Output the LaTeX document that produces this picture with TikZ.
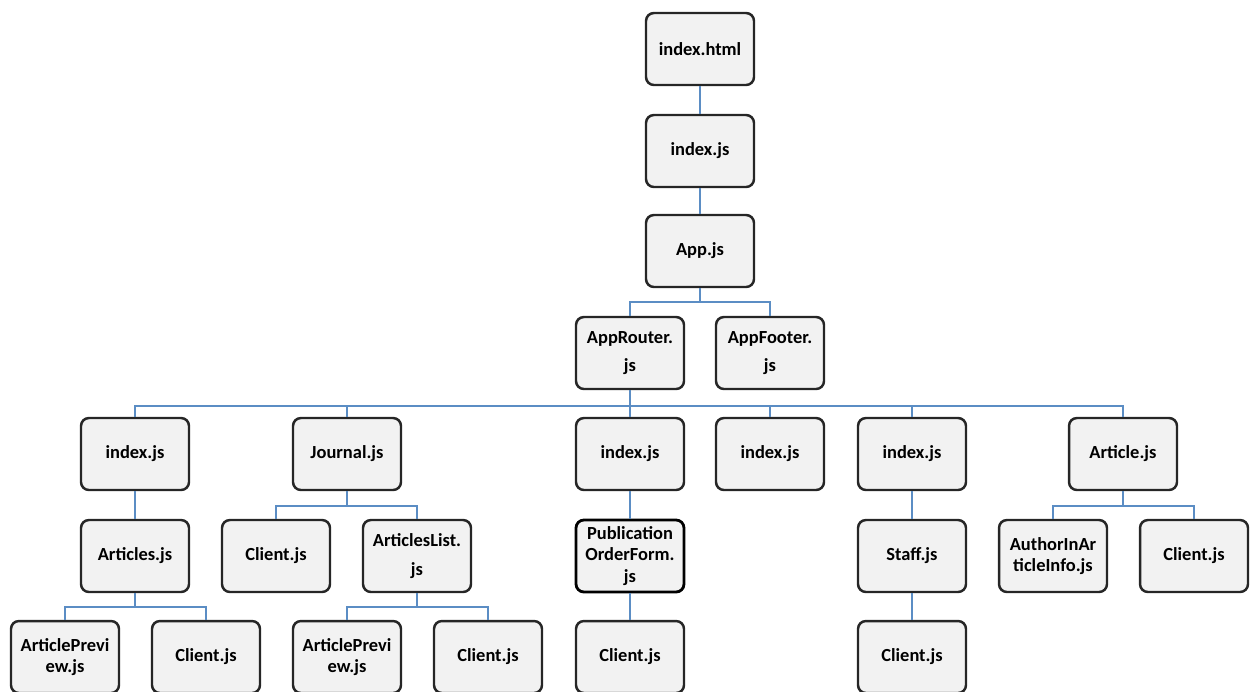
\documentclass[tikz,border=0pt]{standalone}
\usepackage{fontspec}
\setmainfont{Carlito}
\usetikzlibrary{positioning}
\usepackage{xcolor}
\definecolor{boxfill}{HTML}{F2F2F2}
\definecolor{boxline}{HTML}{262626}
\definecolor{linkblue}{HTML}{5B8DC4}

\begin{document}
\begin{tikzpicture}[x=0.02cm, y=-0.02cm,
    font=\fontsize{10.5}{12.3}\selectfont\bfseries,
    file/.style={draw=boxline, fill=boxfill, line width=1.4pt, rounded corners=4.5pt,
                 minimum width=2.16cm, minimum height=1.44cm, align=center, inner sep=2pt},
    wide/.style={font=\fontsize{10.5}{16.3}\selectfont\bfseries},
    link/.style={draw=linkblue, line width=1.4pt}]
    \clip (0,0) rectangle (1258,691);

    % main chain
    \node[file] (html) at (700,49) {index.html};
    \node[file] (idx) at (700,151) {index.js};
    \node[file] (app) at (700,251) {App.js};
    \node[file, wide] (router) at (630,353) {AppRouter.\\js};
    \node[file, wide] (footer) at (770,353) {AppFooter.\\js};

    % pages
    \node[file] (idxA) at (135,454) {index.js};
    \node[file] (journal) at (347,454) {Journal.js};
    \node[file] (idxB) at (630,454) {index.js};
    \node[file] (idxC) at (770,454) {index.js};
    \node[file] (idxD) at (912,454) {index.js};
    \node[file] (article) at (1123,454) {Article.js};

    % components
    \node[file] (articles) at (135,556) {Articles.js};
    \node[file] (clientJ) at (276,556) {Client.js};
    \node[file, wide] (alist) at (417,556) {ArticlesList.\\js};
    \node[file, draw=black, line width=1.6pt] (pubform) at (630,556) {Publication\\OrderForm.\\js};
    \node[file] (staff) at (912,556) {Staff.js};
    \node[file] (author) at (1053,556) {AuthorInAr\\ticleInfo.js};
    \node[file] (clientA) at (1194,556) {Client.js};

    \node[file] (previewA) at (65,657) {ArticlePrevi\\ew.js};
    \node[file] (clientR) at (206,657) {Client.js};
    \node[file] (previewL) at (347,657) {ArticlePrevi\\ew.js};
    \node[file] (clientL) at (488,657) {Client.js};
    \node[file] (clientP) at (630,657) {Client.js};
    \node[file] (clientS) at (912,657) {Client.js};

    % connectors
    \draw[link] (html) -- (idx);
    \draw[link] (idx) -- (app);
    \foreach \c in {router, footer}
        \draw[link] (app.south) -- ++(0,14) -| (\c.north);
    \foreach \c in {idxA, journal, idxB, idxC, idxD, article}
        \draw[link] (router.south) -- ++(0,16) -| (\c.north);
    \draw[link] (idxA) -- (articles);
    \foreach \c in {clientJ, alist}
        \draw[link] (journal.south) -- ++(0,15) -| (\c.north);
    \draw[link] (idxB) -- (pubform);
    \draw[link] (idxD) -- (staff);
    \foreach \c in {author, clientA}
        \draw[link] (article.south) -- ++(0,15) -| (\c.north);
    \foreach \c in {previewA, clientR}
        \draw[link] (articles.south) -- ++(0,14) -| (\c.north);
    \foreach \c in {previewL, clientL}
        \draw[link] (alist.south) -- ++(0,14) -| (\c.north);
    \draw[link] (pubform) -- (clientP);
    \draw[link] (staff) -- (clientS);
\end{tikzpicture}
\end{document}
